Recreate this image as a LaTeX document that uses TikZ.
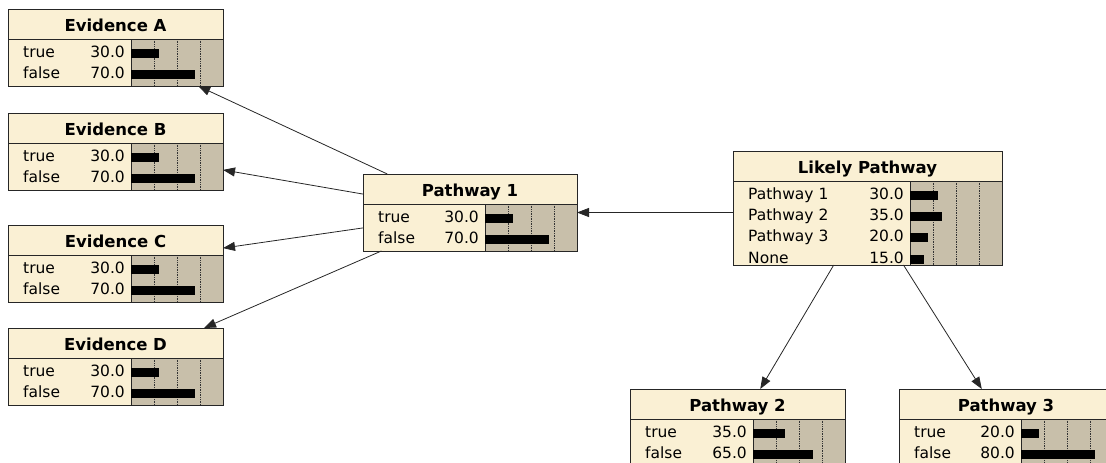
\documentclass[tikz,border=0pt]{standalone}
\usepackage{fontspec}
\setmainfont{DejaVu Sans}
\usetikzlibrary{arrows.meta}
\definecolor{bncream}{RGB}{250,240,212}
\definecolor{bngrey}{RGB}{200,191,170}
\newcommand{\bnnode}[6]{%
  \node[bnbox,minimum width=#3,minimum height=30+#4,anchor=north west] (#1) at (#2) {};
  \fill[bngrey] ([xshift=-92pt,yshift=-30pt]#1.north east) rectangle (#1.south east);
  \foreach \g in {-69,-46,-23}
    \draw[bngrid] ([xshift=\g pt,yshift=-30pt]#1.north east) -- ([xshift=\g pt]#1.south east);
  \draw[bnline] ([xshift=-92pt,yshift=-30pt]#1.north east) -- ([xshift=-92pt]#1.south east);
  \draw[bnline] ([yshift=-30pt]#1.north west) -- ([yshift=-30pt]#1.north east);
  \draw[bnline] (#1.north west) rectangle (#1.south east);
  \node[bntitle,anchor=base] (#1-title) at ([yshift=-22pt]#1.north) {#5};
  \foreach \lab/\val [count=\i] in {#6} {
    \pgfmathsetmacro\rb{-(48+21.4*(\i-1))}
    \pgfmathsetmacro\bt{\rb+8.5}
    \pgfmathsetmacro\bw{\val*0.92}
    \node[bntext,anchor=base west] at ([xshift=15pt,yshift=\rb pt]#1.north west) {\lab};
    \node[bntext,anchor=base east] at ([xshift=-98pt,yshift=\rb pt]#1.north east) {\val};
    \fill ([xshift=-92pt,yshift=\bt pt]#1.north east) rectangle ++(\bw pt,-9pt);
  }
}

\begin{document}
\begin{tikzpicture}[x=1pt,y=-1pt,
    bnbox/.style={fill=bncream,inner sep=0pt,outer sep=0pt},
    bnline/.style={draw=black!85,line width=0.9pt},
    bngrid/.style={black!80,line width=0.7pt,densely dotted},
    bntitle/.style={inner sep=0pt,font=\fontsize{16.5}{19}\selectfont\bfseries},
    bntext/.style={inner sep=0pt,font=\fontsize{15.5}{18}\selectfont},
    bnarrow/.style={black!85,line width=0.8pt,-{Triangle[length=12pt,width=9pt]}}]
  \useasboundingbox (0,0) rectangle (1106,463);
  \clip (0,0) rectangle (1106,463);
  \bnnode{evA}{8,9}{215}{47}{Evidence A}{true/30.0,false/70.0}
  \bnnode{evB}{8,113}{215}{47}{Evidence B}{true/30.0,false/70.0}
  \bnnode{evC}{8,225}{215}{47}{Evidence C}{true/30.0,false/70.0}
  \bnnode{evD}{8,328}{215}{47}{Evidence D}{true/30.0,false/70.0}
  \bnnode{path1}{363,174}{214}{47}{Pathway 1}{true/30.0,false/70.0}
  \bnnode{likely}{733,151}{269}{84}{Likely Pathway}{Pathway 1/30.0,Pathway 2/35.0,Pathway 3/20.0,None/15.0}
  \bnnode{path2}{630,389}{215}{47}{Pathway 2}{true/35.0,false/65.0}
  \bnnode{path3}{899,389}{214}{47}{Pathway 3}{true/20.0,false/80.0}
  \draw[bnarrow] (path1) -- (evA);
  \draw[bnarrow] (path1) -- (evB);
  \draw[bnarrow] (path1) -- (evC);
  \draw[bnarrow] (path1) -- (evD);
  \draw[bnarrow] (likely.west |- path1.east) -- (path1.east);
  \draw[bnarrow] (likely) -- (path2);
  \draw[bnarrow] (likely) -- (path3);
\end{tikzpicture}
\end{document}
